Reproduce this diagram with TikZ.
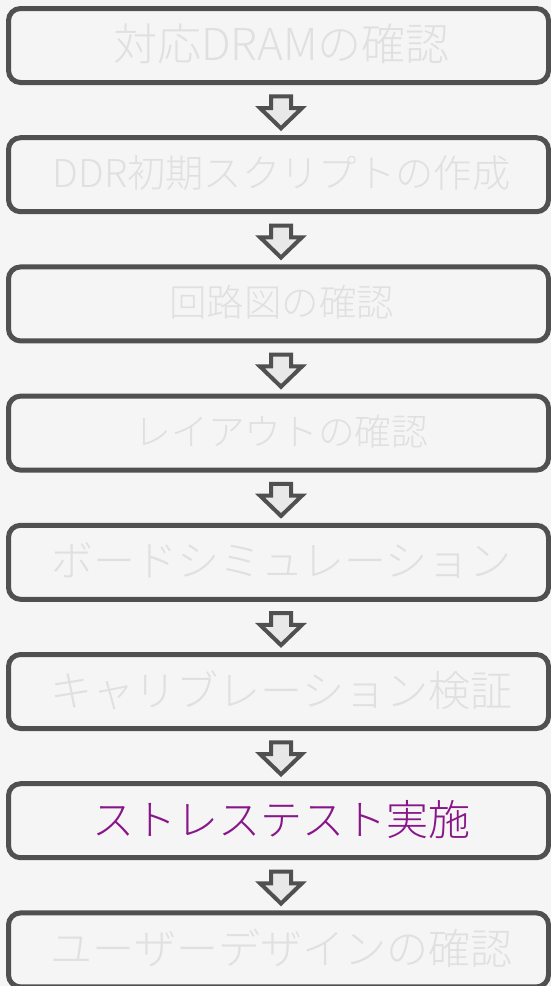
\documentclass[tikz,border=0pt]{standalone}
\usepackage{fontspec}
\setmainfont{Noto Sans CJK JP}[UprightFont={* Light}]
\usetikzlibrary{shapes.arrows}
\definecolor{bg}{HTML}{F5F5F5}
\definecolor{edge}{HTML}{505050}
\definecolor{faded}{HTML}{E0E0E0}
\definecolor{hilite}{HTML}{88168A}
\definecolor{arrowfill}{HTML}{E8E8E8}
\tikzset{
  stepbox/.style={draw=edge, line width=5pt, rounded corners=12pt, fill=bg,
    minimum width=540pt, minimum height=74pt, inner sep=0pt, outer sep=0pt},
  steptext/.style={text=faded, inner sep=0pt},
  downarrow/.style={single arrow, shape border rotate=270, draw=edge, line width=4pt,
    fill=arrowfill, minimum width=38pt, minimum height=32pt, inner sep=8pt,
    single arrow head extend=11pt, single arrow tip angle=92}
}
\begin{document}
\begin{tikzpicture}[x=1pt,y=-1pt]
\useasboundingbox (0,0) rectangle (551,986);
\clip (0,0) rectangle (551,986);
\fill[bg] (0,0) rectangle (551,986);
\foreach \i/\t/\f/\c in {1/対応DRAMの確認/44/faded, 2/DDR初期スクリプトの作成/38.3/faded,
  3/回路図の確認/37.5/faded, 4/レイアウトの確認/36.7/faded,
  5/ボードシミュレーション/42/faded, 6/キャリブレーション検証/42/faded,
  7/ストレステスト実施/42/hilite, 8/ユーザーデザインの確認/42/faded} {
  \node[stepbox] (b\i) at (278.5, {45.5+(\i-1)*129.2}) {};
  \node[steptext, text=\c, font=\fontsize{\f pt}{\f pt}\selectfont] (t\i) at (281.5, {44+(\i-1)*129.2}) {\t};
}
\foreach \i in {1,...,7} {
  \node[downarrow] (a\i) at (281, {107.5+(\i-1)*129.2}) {};
}
\end{tikzpicture}
\end{document}
